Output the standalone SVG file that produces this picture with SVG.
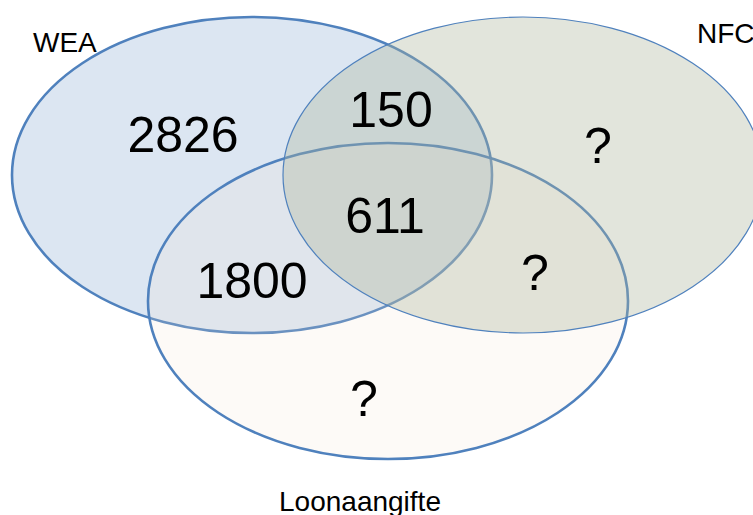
<svg xmlns="http://www.w3.org/2000/svg" width="753" height="515" viewBox="0 0 753 515">
<style>
.set{stroke:#4f81bd}
.num{font-family:"Liberation Sans",Arial,sans-serif;font-size:50px;fill:#000;text-anchor:middle}
.lbl{font-family:"Liberation Sans",Arial,sans-serif;font-size:28px;fill:#000}
</style>
<rect width="753" height="515" fill="#ffffff"/>
<g id="wea">
<ellipse class="set" cx="252" cy="175" rx="240" ry="158" fill="#dce6f2" stroke-width="2.6"/>
</g>
<g id="loonaangifte">
<ellipse class="set" cx="388" cy="301" rx="240" ry="158" fill="#f3e2d0" fill-opacity="0.17" stroke-width="2.6"/>
</g>
<g id="nfc">
<ellipse class="set" cx="523" cy="175" rx="240" ry="158" fill="#acb59b" fill-opacity="0.35" stroke-width="1.2"/>
</g>
<g id="labels">
<text class="lbl" x="33" y="52">WEA</text>
<text class="lbl" x="697" y="43">NFC</text>
<text class="lbl" x="360" y="511" text-anchor="middle">Loonaangifte</text>
</g>
<g id="counts">
<text class="num" x="183" y="152">2826</text>
<text class="num" x="391" y="127">150</text>
<text class="num" x="385" y="233">611</text>
<text class="num" x="252" y="298">1800</text>
<text class="num" x="598" y="163">?</text>
<text class="num" x="535" y="290">?</text>
<text class="num" x="364" y="416">?</text>
</g>
<g id="connectors"></g>
</svg>
